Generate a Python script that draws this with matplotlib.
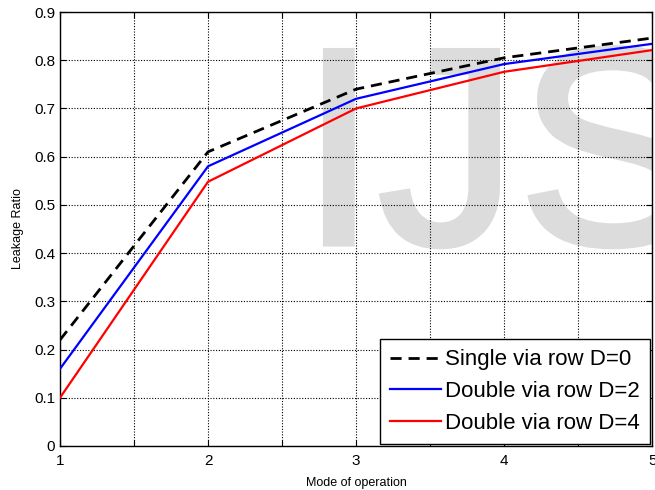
import matplotlib
matplotlib.use("Agg")
import matplotlib.pyplot as plt
import matplotlib.patheffects as pe
import numpy as np

plt.rcParams['font.family'] = ['Liberation Sans', 'DejaVu Sans']

# ===== data =====
modes = [1, 2, 3, 4, 5]
single_d0 = [0.22, 0.61, 0.74, 0.805, 0.846]
double_d2 = [0.16, 0.58, 0.72, 0.792, 0.834]
double_d4 = [0.10, 0.548, 0.70, 0.776, 0.821]
labels = ["Single via row D=0", "Double via row D=2", "Double via row D=4"]

fig = plt.figure(figsize=(6.55, 4.9), dpi=100)
ax = fig.add_axes([0.0916, 0.0898, 0.904, 0.8857])

# watermark (clipped by the axes like in the source image)
wm = ax.text(0.405, 0.466, "IJS", transform=ax.transAxes, fontsize=202,
             color="#dcdcdc", va="baseline", ha="left", zorder=0, clip_on=True)
wm.set_path_effects([pe.withStroke(linewidth=4, foreground="#dcdcdc", joinstyle="miter")])

ax.plot(modes, single_d0, "k--", lw=2, dashes=(4, 2.5), label=labels[0], zorder=3)
ax.plot(modes, double_d2, color="blue", lw=1.6, label=labels[1], zorder=3)
ax.plot(modes, double_d4, color="red", lw=1.6, label=labels[2], zorder=3)

ax.set_xlim(1, 5)
ax.set_ylim(0, 0.9)
xt = np.arange(1, 5.01, 0.5)
ax.set_xticks(xt)
ax.set_xticklabels([str(int(v)) if v == int(v) else "" for v in xt])
ax.set_yticks(np.arange(0, 0.91, 0.1))
ax.set_yticklabels(["0"] + ["%.1f" % v for v in np.arange(0.1, 0.91, 0.1)])
ax.tick_params(direction="in", top=True, right=True, labelsize=11, length=4, width=0.8)
ax.tick_params(axis="x", pad=6)
ax.grid(True, color="black", linestyle=(0, (1, 1.5)), linewidth=0.8, zorder=1)
ax.set_axisbelow(False)
for s in ax.spines.values():
    s.set_linewidth(1.0)

ax.set_xlabel("Mode of operation", fontsize=9, labelpad=6)
ax.set_ylabel("Leakage Ratio", fontsize=9, labelpad=7)

leg = ax.legend(loc="lower right", fontsize=16, fancybox=False, framealpha=1,
                edgecolor="black", borderpad=0.45, labelspacing=0.48,
                handlelength=2.3, handletextpad=0.2, borderaxespad=0.1)
leg.get_frame().set_linewidth(1.0)

fig.savefig("out.png", dpi=100)
